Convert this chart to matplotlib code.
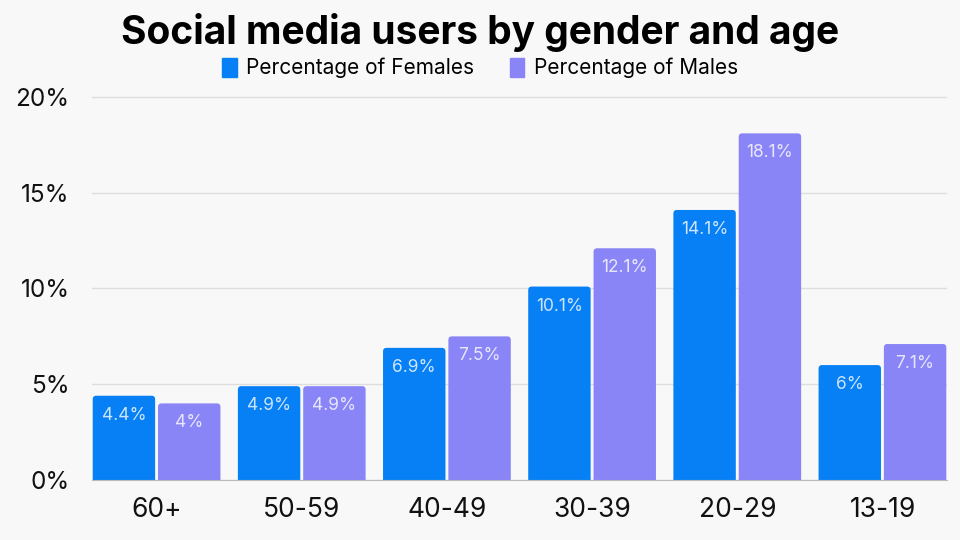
import matplotlib
matplotlib.use("Agg")
import matplotlib.pyplot as plt
from matplotlib.patches import FancyBboxPatch, Patch
import numpy as np

plt.rcParams['font.family'] = ['Inter', 'DejaVu Sans']

# data
age_groups = ['60+', '50-59', '40-49', '30-39', '20-29', '13-19']
females = [4.4, 4.9, 6.9, 10.1, 14.1, 6.0]
males = [4.0, 4.9, 7.5, 12.1, 18.1, 7.1]
y_ticks = [0, 5, 10, 15, 20]

female_color = '#0780f5'
male_color = '#8985f6'
bg = '#f8f8f8'


def fmt(v):
    return ('%g' % v) + '%'


fig = plt.figure(figsize=(9.6, 5.4), dpi=100, facecolor=bg)
ax = fig.add_axes([0.0958, 0.1111, 0.8907, 0.7111])
ax.set_facecolor(bg)

x = np.arange(len(age_groups))
w = 0.43
gap = 0.01
b1 = ax.bar(x - w / 2 - gap, females, w, color=female_color, zorder=3)
b2 = ax.bar(x + w / 2 + gap, males, w, color=male_color, zorder=3)

ax.set_xlim(-0.445, len(age_groups) - 1 + 0.445)
ax.set_ylim(0, 20.05)

# swap the plain rectangles for ones with slightly rounded tops
px_x = (ax.get_xlim()[1] - ax.get_xlim()[0]) / (fig.get_figwidth() * fig.dpi * 0.8907)
px_y = (ax.get_ylim()[1] - ax.get_ylim()[0]) / (fig.get_figheight() * fig.dpi * 0.7111)
for bars in (b1, b2):
    for rect in bars:
        rect.set_visible(False)
        rx, rw, rh = rect.get_x(), rect.get_width(), rect.get_height()
        fb = FancyBboxPatch((rx, -1), rw, rh + 1,
                            boxstyle='round,pad=0,rounding_size=%f' % (3.5 * px_x),
                            mutation_aspect=px_y / px_x,
                            facecolor=rect.get_facecolor(), edgecolor='none', zorder=3)
        ax.add_patch(fb)

for bars, vals in ((b1, females), (b2, males)):
    for rect, v in zip(bars, vals):
        ax.annotate(fmt(v), (rect.get_x() + rect.get_width() / 2, v),
                    xytext=(0, -14), textcoords='offset points',
                    ha='center', va='center', fontsize=12.5,
                    color='white', alpha=0.8, zorder=4)

ax.set_yticks(y_ticks)
ax.set_yticklabels([fmt(t) for t in y_ticks])
ax.set_xticks(x)
ax.set_xticklabels(age_groups)
ax.tick_params(axis='both', length=0, colors='#111111')
ax.tick_params(axis='x', pad=12, labelsize=19)
ax.tick_params(axis='y', pad=16, labelsize=17.5)

ax.grid(axis='y', color='#dddddd', linewidth=1, zorder=0)
for s in ('top', 'right', 'left'):
    ax.spines[s].set_visible(False)
ax.spines['bottom'].set_color('#bbbbbb')
ax.spines['bottom'].set_zorder(5)

fig.text(0.5, 0.939, 'Social media users by gender and age', ha='center', va='center',
         fontsize=28, fontweight='bold', color='black')
handles = [Patch(color=female_color, label='Percentage of Females'),
           Patch(color=male_color, label='Percentage of Males')]
fig.legend(handles=handles, loc='center', bbox_to_anchor=(0.5, 0.874), ncol=2,
           frameon=False, fontsize=15, handlelength=0.7, handleheight=1.05,
           handletextpad=0.45, columnspacing=1.7)

fig.savefig('out.png', dpi=100, facecolor=bg)
